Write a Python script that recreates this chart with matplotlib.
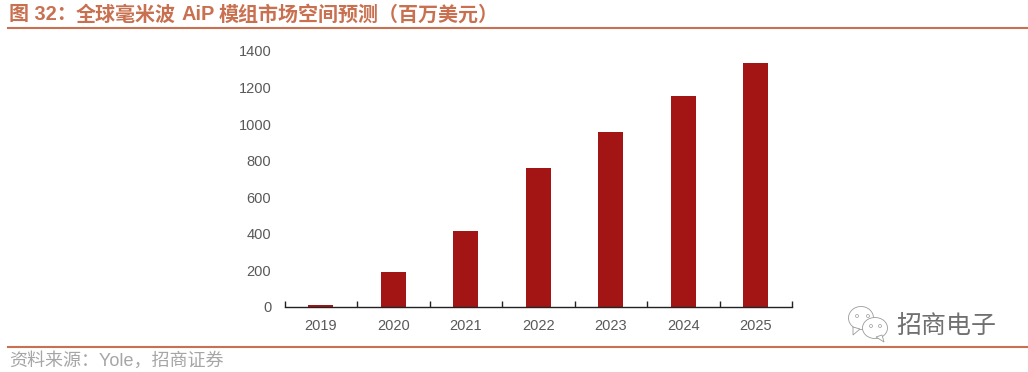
import matplotlib
matplotlib.use("Agg")
import matplotlib.pyplot as plt
from matplotlib.patches import Ellipse, Polygon
from matplotlib.lines import Line2D

plt.rcParams['font.family'] = ['Liberation Sans', 'Noto Sans CJK SC', 'DejaVu Sans']

years = ["2019", "2020", "2021", "2022", "2023", "2024", "2025"]
market = [10, 191, 415, 760, 957, 1154, 1334]
y_ticks = [0, 200, 400, 600, 800, 1000, 1200, 1400]

W, H = 1028, 372
bar_color = "#A31515"
rule_color = "#C8704F"
grey = "#595959"

fig = plt.figure(figsize=(W / 100, H / 100), dpi=100)
ax = fig.add_axes([284.5 / W, 1 - 307 / H, (792 - 284.5) / W, (307 - 51) / H])

x = range(len(years))
ax.bar(x, market, width=0.34, color=bar_color, zorder=2)
ax.set_xlim(-0.5, 6.5)
ax.set_ylim(0, 1400)

# ticks sit between the categories and point up into the plot
ax.set_xticks([i - 0.5 for i in range(8)])
ax.set_xticklabels([])
ax.tick_params(axis="x", which="major", direction="in", length=4, width=1, color="#222222")
ax.set_xticks(list(x), minor=True)
ax.set_xticklabels(years, minor=True)
ax.tick_params(axis="x", which="minor", length=0, pad=8.5, labelsize=10.5, labelcolor=grey)
ax.set_yticks(y_ticks)
ax.tick_params(axis="y", length=0, pad=9.5, labelsize=10.5, labelcolor=grey)
for s in ["top", "right", "left"]:
    ax.spines[s].set_visible(False)
ax.spines["bottom"].set_color("#222222")
ax.spines["bottom"].set_linewidth(1)
ax.spines["bottom"].set_zorder(3)

# overlay in pixel coordinates for header, footer and logo
ov = fig.add_axes([0, 0, 1, 1])
ov.set_xlim(0, W)
ov.set_ylim(H, 0)
ov.axis("off")
ov.patch.set_alpha(0)

ov.add_line(Line2D([8, 1028], [27.5, 27.5], color=rule_color, lw=1.5))
ov.add_line(Line2D([8, 1028], [347, 347], color=rule_color, lw=1.5))

# full width punctuation written as escapes
title_parts = [(9, "图 32\uff1a"), (76, "全球毫米波"), (181, "AiP"),
               (219, "模组市场空间预测\uff08百万美元\uff09")]
for tx, part in title_parts:
    ov.text(tx, 15, part, fontsize=14.4, fontweight="bold", color=rule_color, va="center", ha="left")
ov.text(9, 361, "资料来源\uff1aYole\uff0c招商证券", fontsize=13, color="#A6A6A6",
        va="center", ha="left")

# wechat style logo
logo = "#9A9A9A"
ov.add_patch(Ellipse((861, 318), 25, 23, fc="white", ec=logo, lw=0.6, zorder=3))
ov.add_patch(Polygon([(853, 327), (853, 335), (860, 329)], closed=True, fc="white", ec=logo, lw=0.6, zorder=3))
ov.add_patch(Ellipse((875, 328), 25, 21, fc="white", ec=logo, lw=0.6, zorder=4))
ov.add_patch(Polygon([(876, 337), (884, 342), (882, 335)], closed=True, fc="white", ec=logo, lw=0.6, zorder=4))
for px, py in [(857, 316), (868, 316), (871, 326), (880, 326)]:
    ov.add_patch(Ellipse((px, py), 3, 3, fc="white", ec=logo, lw=0.5, zorder=5))
ov.text(896, 326, "招商电子", fontsize=18, color="#707070", va="center", ha="left", zorder=5)

fig.savefig("out.png", dpi=100)
